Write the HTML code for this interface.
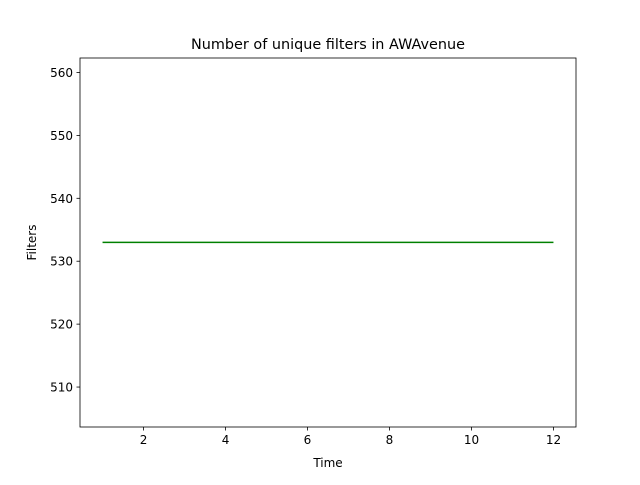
<!DOCTYPE html>
<html><head><meta charset="utf-8"><style>
body{margin:0;background:#fff;font-family:"Liberation Sans","DejaVu Sans",sans-serif;}
svg text{font-family:"DejaVu Sans","Liberation Sans",sans-serif;}
</style></head><body>
<svg id="chart" width="640" height="480" viewBox="0 0 640 480">
<rect width="640" height="480" fill="#fff"/>
<text x="328" y="49" text-anchor="middle" font-size="14.4">Number of unique filters in AWAvenue</text>
<g id="axes"></g>
<text x="328" y="467" text-anchor="middle" font-size="12">Time</text>
<text transform="translate(36,242.5) rotate(-90)" text-anchor="middle" font-size="12">Filters</text>
</svg>
<script>
const times = [1,2,3,4,5,6,7,8,9,10,11,12];
const filters = [533,533,533,533,533,533,533,533,533,533,533,533];
const xTicks = [2,4,6,8,10,12];
const yTicks = [510,520,530,540,550,560];
const L=80,R=576,T=58,B=427;
const xMin=0.45,xMax=12.55,yMin=503.65,yMax=562.3;
const sx=v=>L+(v-xMin)/(xMax-xMin)*(R-L);
const sy=v=>B-(v-yMin)/(yMax-yMin)*(B-T);
const NS='http://www.w3.org/2000/svg';
const g=document.getElementById('axes');
function mk(t,a){const e=document.createElementNS(NS,t);for(const k in a)e.setAttribute(k,a[k]);g.appendChild(e);return e;}
xTicks.forEach(v=>{
 const l=mk('line',{x1:sx(v),x2:sx(v),y1:B,y2:B+3.5,stroke:'#000','stroke-width':0.8});
 
 
 const t=mk('text',{x:sx(v),y:B+17,'text-anchor':'middle','font-size':12});
 t.textContent=v;
 
 
});
yTicks.forEach(v=>{
 const l=mk('line',{x1:L-3.5,x2:L,y1:sy(v),y2:sy(v),stroke:'#000','stroke-width':0.8});
 
 
 const t=mk('text',{x:L-7,y:sy(v)+4.5,'text-anchor':'end','font-size':12});
 t.textContent=v;
 
 
});
const p=mk('polyline',{points:times.map((x,i)=>sx(x)+','+sy(filters[i])).join(' '),fill:'none',stroke:'#008000','stroke-width':1.5});


const f=mk('rect',{x:L,y:T,width:R-L,height:B-T,fill:'none',stroke:'#000','stroke-width':0.8});


</script>
</body></html>
